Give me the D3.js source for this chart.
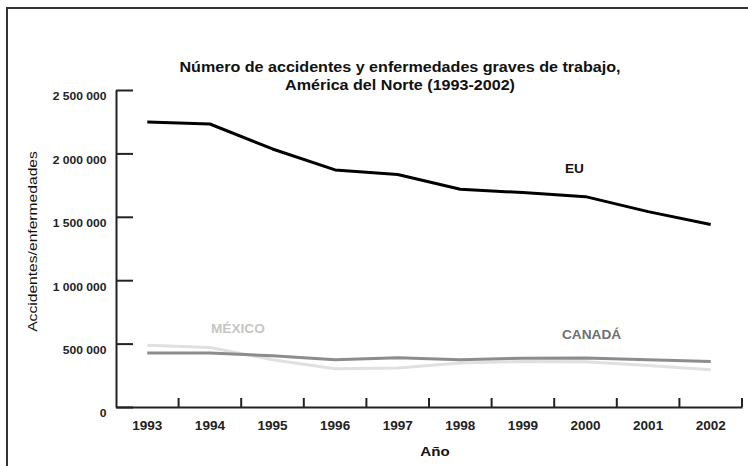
<!DOCTYPE html>
<html><head><meta charset="utf-8">
<script src="https://cdn.jsdelivr.net/npm/d3@7"></script>
<style>
body{margin:0;background:#fff}
svg{display:block}
text{font-family:"Liberation Sans",Arial,Helvetica,sans-serif}
</style>
</head><body>
<svg id="c" width="748" height="466"></svg>
<script>
const years = ["1993","1994","1995","1996","1997","1998","1999","2000","2001","2002"];
const eu     = [2248000, 2232000, 2035000, 1870000, 1834000, 1717000, 1691000, 1659000, 1541000, 1440000];
const canada = [425000, 425000, 405000, 372000, 388000, 373000, 385000, 386000, 373000, 359000];
const mexico = [487000, 470000, 373000, 302000, 308000, 347000, 359000, 357000, 328000, 294000];
const yTicks = [0, 500000, 1000000, 1500000, 2000000, 2500000];
const titleLines = ["Número de accidentes y enfermedades graves de trabajo,", "América del Norte (1993-2002)"];
const yLabel = "Accidentes/enfermedades";
const xLabel = "Año";
const seriesNames = ["EU", "CANADÁ", "MÉXICO"];

const svg = d3.select("#c");
function stretch(sel, f){
  sel.each(function(){
    const w = this.getComputedTextLength();
    d3.select(this).attr("textLength", w*f).attr("lengthAdjust","spacingAndGlyphs");
  });
}

// outer frame
svg.append("rect").attr("x",7).attr("y",8).attr("width",780).attr("height",500)
  .attr("fill","none").attr("stroke","#333").attr("stroke-width",2);

const L = 116, R = 742, T = 90, B = 407;
const x = d3.scaleBand().domain(years).range([L, R]);
const y = d3.scaleLinear().domain([0, 2500000]).range([B, T]);
const fmt = d3.formatLocale({decimal:",", thousands:" ", grouping:[3], currency:["",""]}).format(",");

// title
const tt = svg.append("g");
titleLines.forEach((t,i)=>{
  tt.append("text").attr("x",400).attr("y",72 + i*18).attr("text-anchor","middle")
    .attr("font-size",14).attr("font-weight","bold").attr("fill","#111").text(t);
});
stretch(tt.selectAll("text"), 1.15);

// y axis ticks (inward)
const ya = svg.append("g").attr("transform",`translate(${L},0)`)
  .call(d3.axisRight(y).tickValues(yTicks).tickSize(17).tickSizeOuter(0).tickFormat(""));
ya.select(".domain").attr("stroke","#222").attr("stroke-width",2);
ya.selectAll(".tick line").attr("stroke","#222").attr("stroke-width",2);

// y tick labels
const yl = svg.append("g").attr("transform",`translate(${L},0)`)
  .call(d3.axisLeft(y).tickValues(yTicks).tickSize(0).tickPadding(9.5).tickFormat(fmt));
yl.select(".domain").remove();
yl.selectAll("text").attr("font-size",10.5).attr("font-weight","bold").attr("fill","#222")
  .attr("dy","0.95em").attr("font-family",'"Liberation Sans",Arial,sans-serif');
stretch(yl.selectAll("text"), 1.15);

// x axis
const xa = svg.append("g").attr("transform",`translate(0,${B})`)
  .call(d3.axisBottom(x).tickSize(0).tickPadding(13.8).tickSizeOuter(0));
xa.select(".domain").attr("stroke","#222").attr("stroke-width",2);
xa.selectAll("text").attr("font-size",13).attr("font-weight","bold").attr("fill","#222")
  .attr("font-family",'"Liberation Sans",Arial,sans-serif');
stretch(xa.selectAll("text"), 1.04);
const bounds = years.slice(1).map(d=>x(d)).concat([x.range()[1]]);
svg.append("g").selectAll("line").data(bounds).join("line")
  .attr("x1",d=>d).attr("x2",d=>d).attr("y1",B).attr("y2",B-9)
  .attr("stroke","#222").attr("stroke-width",2);

// axis titles
const xt = svg.append("text").attr("x",435).attr("y",456).attr("text-anchor","middle")
  .attr("font-size",13.5).attr("font-weight","bold").attr("fill","#111").text(xLabel);
stretch(xt, 1.12);
const yt = svg.append("text").attr("transform","translate(37,241.5) rotate(-90)")
  .attr("text-anchor","middle").attr("font-size",12.5).attr("fill","#111").text(yLabel);
stretch(yt, 1.25);

// lines
const line = d3.line().x((d,i)=>x(years[i]) + x.bandwidth()/2).y(d=>y(d));
const series = [
  {name:seriesNames[2], data:mexico, color:"#e0e0e0", lab:"#c6c6c6", lx:211, ly:333},
  {name:seriesNames[1], data:canada, color:"#8c8c8c", lab:"#707070", lx:562, ly:339},
  {name:seriesNames[0], data:eu, color:"#000", lab:"#111", lx:565, ly:173}
];
series.forEach(s=>{
  svg.append("path").datum(s.data).attr("d",line).attr("fill","none")
    .attr("stroke",s.color).attr("stroke-width",3).attr("stroke-linejoin","round");
});
series.forEach(s=>{
  const t = svg.append("text").attr("x",s.lx).attr("y",s.ly).attr("font-size",13)
    .attr("font-weight","bold").attr("fill",s.lab).text(s.name);
  stretch(t, 1.05);
});
</script>
</body></html>
